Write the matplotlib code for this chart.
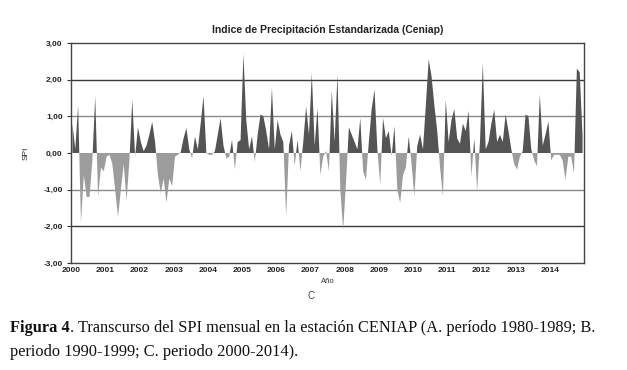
import numpy as np
import matplotlib
matplotlib.use('Agg')
import matplotlib.pyplot as plt

plt.rcParams['font.family'] = ['Liberation Sans', 'DejaVu Sans']

# monthly SPI, Ceniap, Jan 2000 - Dec 2014 (one row per year)
spi = [
    0.8, 0.1, 1.3, -1.9, -0.6, -1.2, -1.2, -0.2, 1.55, -1.2, -0.4, -0.5,      # 2000
    -0.1, -0.05, -0.3, -1.0, -1.75, -1.0, -0.3, -1.3, -0.2, 1.45, -0.1, 0.7,  # 2001
    0.3, 0.05, 0.2, 0.5, 0.85, 0.3, -0.6, -1.1, -0.7, -1.35, -0.7, -0.9,      # 2002
    -0.1, -0.05, 0.02, 0.4, 0.68, 0.1, -0.15, 0.45, 0.1, 0.8, 1.55, 0.0,      # 2003
    -0.05, -0.05, 0.05, 0.5, 0.95, 0.2, -0.15, -0.1, 0.36, -0.45, 0.3, 0.35,  # 2004
    2.7, 0.9, 0.1, 0.45, -0.25, 0.5, 1.05, 1.0, 0.6, 0.1, 1.77, 0.1,          # 2005
    0.9, 0.5, 0.3, -1.73, 0.2, 0.6, -0.35, 0.36, -0.5, 0.3, 1.27, 0.5,        # 2006
    2.18, 0.2, 1.23, -0.6, -0.1, 0.05, -0.5, 1.7, 0.3, 2.15, -1.0, -2.1,      # 2007
    -0.8, 0.7, 0.5, 0.3, 0.1, 0.95, -0.5, -0.73, 0.3, 1.2, 1.73, 0.1,         # 2008
    -0.86, 0.95, 0.4, 0.6, -0.1, 0.73, -1.0, -1.36, -0.6, -0.4, 0.45, -0.3,   # 2009
    -1.18, 0.2, 0.5, 0.1, 1.3, 2.55, 2.1, 1.3, 0.6, -0.4, -1.18, 1.45,        # 2010
    0.3, 0.9, 1.2, 0.4, 0.25, 0.8, 0.6, 1.15, -0.64, 0.4, -1.05, 0.3,         # 2011
    2.45, 0.1, 0.3, 0.8, 1.18, 0.3, 0.5, 0.3, 1.05, 0.6, 0.1, -0.3,           # 2012
    -0.45, -0.1, 0.05, 1.05, 1.0, 0.1, -0.2, -0.36, 1.6, 0.2, 0.5, 0.86,      # 2013
    -0.2, -0.05, -0.05, -0.05, -0.2, -0.73, -0.1, -0.1, -0.55, 2.3, 2.2, 0.45, # 2014
]
years = list(range(2000, 2015))
yticks = [3, 2, 1, 0, -1, -2, -3]

spi = np.array(spi)
x = np.arange(len(spi)) + 0.5

fig = plt.figure(figsize=(6.27, 3.70), dpi=100)
ax = fig.add_axes([71/627, 1-263/370, 513/627, 220/370])

ax.fill_between(x, spi, 0, where=spi >= 0, interpolate=True, color='#545454', lw=0)
ax.fill_between(x, spi, 0, where=spi <= 0, interpolate=True, color='#9c9c9c', lw=0)

for v in [2, -2]:
    ax.axhline(v, color='#3a3a3a', lw=1.0, zorder=0)
for v in [1, -1]:
    ax.axhline(v, color='#8a8a8a', lw=1.0, zorder=0)

ax.set_xlim(0, len(spi))
ax.set_ylim(-3, 3)
ax.set_yticks(yticks)
ax.set_yticklabels([f'{v:.2f}'.replace('.', ',') for v in yticks], fontsize=6, fontweight='bold')
ax.set_xticks([12*i for i in range(len(years))])
ax.set_xticklabels([str(y) for y in years], fontsize=6, fontweight='bold')
ax.tick_params(axis='y', length=3, width=0.8, pad=3, colors='#333333', labelcolor='#222222')
ax.tick_params(axis='x', length=0, pad=3, labelcolor='#222222')
for s in ax.spines.values():
    s.set_color('#444444')
    s.set_linewidth(1.0)

ax.set_title('Indice de Precipitación Estandarizada (Ceniap)', fontsize=7.5,
             fontweight='bold', pad=7, color='#222222')
ax.set_ylabel('SPI', fontsize=6, labelpad=10, color='#222222')
ax.set_xlabel('Año', fontsize=5.5, labelpad=3, color='#333333')
fig.text(311/627, 1-296/370, 'C', fontsize=7, ha='center', va='center', color='#444444')

# caption: bold "Figura 4" then the rest right after it
cap = dict(family=['Liberation Serif', 'DejaVu Serif'], fontsize=11.8, color='#111111', va='center')
t1 = fig.text(10/627, 1-328/370, 'Figura 4', fontweight='bold', **cap)
fig.canvas.draw()
bb = t1.get_window_extent()
fig.text(bb.x1/fig.bbox.width, 1-328/370,
         '. Transcurso del SPI mensual en la estación CENIAP (A. período 1980-1989; B.', **cap)
fig.text(10/627, 1-352/370, 'periodo 1990-1999; C. periodo 2000-2014).', **cap)

plt.savefig('out.png', dpi=100)
